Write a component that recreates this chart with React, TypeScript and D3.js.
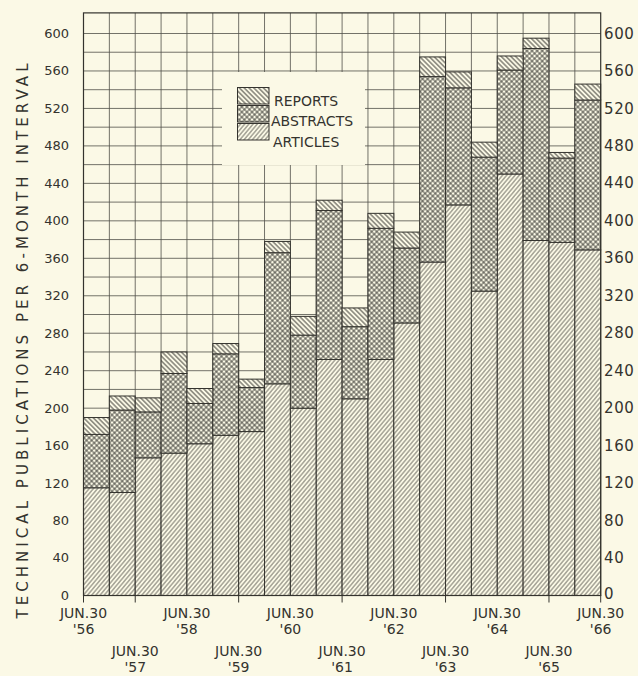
import React from "react";
import * as d3 from "d3";

// ---- data ----
const periods = [
  "1956-H2", "1957-H1", "1957-H2", "1958-H1", "1958-H2", "1959-H1", "1959-H2",
  "1960-H1", "1960-H2", "1961-H1", "1961-H2", "1962-H1", "1962-H2", "1963-H1",
  "1963-H2", "1964-H1", "1964-H2", "1965-H1", "1965-H2", "1966-H1",
];
const articles = [115, 110, 147, 152, 162, 171, 175, 226, 200, 252, 210, 252, 291, 356, 417, 325, 450, 379, 377, 369];
const abstracts = [57, 88, 49, 85, 43, 87, 47, 140, 78, 159, 77, 140, 80, 198, 125, 143, 111, 205, 90, 160];
const reports = [18, 15, 15, 23, 16, 11, 9, 12, 20, 11, 20, 16, 17, 21, 17, 16, 15, 11, 6, 17];

const seriesKeys = ["articles", "abstracts", "reports"];
const legendKeys = ["reports", "abstracts", "articles"];
const legendLabels = ["REPORTS", "ABSTRACTS", "ARTICLES"];
const yTickValues = [0, 40, 80, 120, 160, 200, 240, 280, 320, 360, 400, 440, 480, 520, 560, 600];
const yGridValues = d3.range(20, 601, 20);
const yearLabels = ["'56", "'57", "'58", "'59", "'60", "'61", "'62", "'63", "'64", "'65", "'66"];
const dateLabel = "JUN.30";
const yTitle = "TECHNICAL PUBLICATIONS PER 6-MONTH INTERVAL";

// ---- styling ----
const W = 638;
const H = 676;
const BG = "#fbf9e6";
const INK = "#34332e";
const FONT = "'DejaVu Sans', sans-serif";

const X0 = 83.5;
const X1 = 600.7;
const Y0 = 595.5;
const Y600 = 33.5;

export default function App() {
  const xBand = d3.scaleBand<string>().domain(periods).range([X0, X1]).padding(0);
  const xEdge = d3.scaleLinear().domain([0, periods.length]).range([X0, X1]);
  const y = d3.scaleLinear().domain([0, 600]).range([Y0, Y600]);
  const yTop = y(622);

  const rows = periods.map((p, i) => ({
    period: p,
    articles: articles[i],
    abstracts: abstracts[i],
    reports: reports[i],
  }));
  const stacked = d3.stack<any>().keys(seriesKeys)(rows);
  const fillOf: Record<string, string> = {
    articles: "url(#pArt)",
    abstracts: "url(#pAbs)",
    reports: "url(#pRep)",
  };

  return (
    <svg
      width={W}
      height={H}
      viewBox={`0 0 ${W} ${H}`}
      style={{ position: "absolute", left: 0, top: 0, display: "block" }}
      fontFamily={FONT}
    >
      <defs>
        <pattern id="pArt" patternUnits="userSpaceOnUse" width={3.2} height={3.2} patternTransform="rotate(40)">
          <rect width={3.2} height={3.2} fill={BG} />
          <line x1={1.6} y1={0} x2={1.6} y2={3.2} stroke={INK} strokeWidth={0.65} />
        </pattern>
        <pattern id="pRep" patternUnits="userSpaceOnUse" width={3.4} height={3.4} patternTransform="rotate(-45)">
          <rect width={3.4} height={3.4} fill={BG} />
          <line x1={1.7} y1={0} x2={1.7} y2={3.4} stroke={INK} strokeWidth={0.9} />
        </pattern>
        <pattern id="pAbs" patternUnits="userSpaceOnUse" width={3.6} height={3.6} patternTransform="rotate(45)">
          <rect width={3.6} height={3.6} fill={BG} />
          <line x1={1.8} y1={0} x2={1.8} y2={3.6} stroke={INK} strokeWidth={0.8} />
          <line x1={0} y1={1.8} x2={3.6} y2={1.8} stroke={INK} strokeWidth={0.8} />
        </pattern>
      </defs>

      <rect x={0} y={0} width={W} height={H} fill={BG} />

      {/* grid */}
      <g stroke={INK} strokeWidth={0.8} opacity={0.85}>
        {yGridValues.map((v) => (
          <line key={"h" + v} x1={X0} x2={X1} y1={y(v)} y2={y(v)} />
        ))}
        {d3.range(1, periods.length).map((i) => (
          <line key={"v" + i} x1={xEdge(i)} x2={xEdge(i)} y1={yTop} y2={Y0} />
        ))}
      </g>

      {/* legend box (covers grid) */}
      <rect x={222} y={72} width={143} height={93} fill={BG} />

      {/* bars */}
      <g stroke={INK} strokeWidth={1}>
        {stacked.map((s) =>
          s.map((d, i) => (
            <rect
              key={s.key + i}
              x={xBand(periods[i])}
              width={xBand.bandwidth()}
              y={y(d[1])}
              height={y(d[0]) - y(d[1])}
              fill={fillOf[s.key]}
            />
          ))
        )}
      </g>

      {/* frame */}
      <rect x={X0} y={yTop} width={X1 - X0} height={Y0 - yTop} fill="none" stroke={INK} strokeWidth={1.2} />

      {/* legend */}
      <g>
        {legendKeys.map((k, i) => (
          <g key={k}>
            <rect
              x={237.5}
              y={87.5 + i * 18}
              width={31.5}
              height={16.5}
              fill={fillOf[k]}
              stroke={INK}
              strokeWidth={1}
            />
            <text x={[274, 271, 273][i]} y={[105.5, 126, 146.5][i]} fontSize={14} fill={INK}>
              {legendLabels[i]}
            </text>
          </g>
        ))}
      </g>

      {/* left y labels */}
      <g fontSize={13} fill={INK} textAnchor="end">
        {yTickValues.map((v) => (
          <text key={"l" + v} x={69} y={y(v)} dy="0.34em">
            {v}
          </text>
        ))}
      </g>
      {/* right y labels */}
      <g fontSize={15} fill={INK} textAnchor="start">
        {yTickValues.map((v) => (
          <text key={"r" + v} x={604} y={y(v)} dy={v === 0 ? "0.2em" : "0.34em"} letterSpacing={0.6}>
            {v}
          </text>
        ))}
      </g>

      {/* y title */}
      <text
        transform={`translate(28, 341) rotate(-90)`}
        textAnchor="middle"
        fontSize={15}
        fill={INK}
        textLength={555}
        lengthAdjust="spacing"
      >
        {yTitle}
      </text>

      {/* x ticks */}
      <g stroke={INK} strokeWidth={1}>
        {yearLabels.map((lab, i) =>
          i % 2 === 1 || i === 0 || i === yearLabels.length - 1 ? (
            <line key={"t" + lab} x1={xEdge(i * 2)} x2={xEdge(i * 2)} y1={Y0} y2={Y0 + 7} />
          ) : null
        )}
      </g>

      {/* x labels */}
      <g fontSize={14} fill={INK} textAnchor="middle">
        {yearLabels.map((lab, i) => {
          const cx = xEdge(i * 2);
          const row = i % 2;
          const base = row === 0 ? 617.5 : 655.5;
          return (
            <g key={"x" + lab}>
              <text x={cx} y={base}>{dateLabel}</text>
              <text x={cx} y={base + 16.8}>{lab}</text>
            </g>
          );
        })}
      </g>
    </svg>
  );
}
